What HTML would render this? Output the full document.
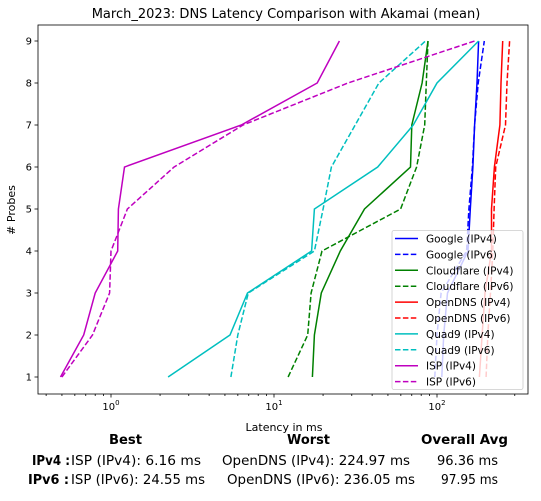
<!DOCTYPE html>
<html><head><meta charset="utf-8"><style>
body{margin:0;background:#fff;}
svg{font-family:"DejaVu Sans","Liberation Sans",sans-serif;}
</style></head><body>
<svg id="chart" width="541" height="496" xmlns="http://www.w3.org/2000/svg">
<rect width="541" height="496" fill="#fff"/>
<text x="286" y="18" font-size="13" text-anchor="middle">March_2023: DNS Latency Comparison with Akamai (mean)</text>
<g id="plot"></g>
<text x="284" y="431" font-size="11" text-anchor="middle">Latency in ms</text>
<text transform="translate(15,210) rotate(-90)" font-size="11" text-anchor="middle"># Probes</text>
<g font-size="13.5">
<text x="109" y="444" font-weight="bold" textLength="33" lengthAdjust="spacingAndGlyphs">Best</text>
<text x="287" y="444" font-weight="bold" textLength="43" lengthAdjust="spacingAndGlyphs">Worst</text>
<text x="421" y="444" font-weight="bold" textLength="87" lengthAdjust="spacingAndGlyphs">Overall Avg</text>
<text x="32" y="465" font-weight="bold" textLength="38" lengthAdjust="spacingAndGlyphs">IPv4 :</text>
<text x="71" y="465" textLength="130" lengthAdjust="spacingAndGlyphs">ISP (IPv4): 6.16 ms</text>
<text x="222" y="465" textLength="188" lengthAdjust="spacingAndGlyphs">OpenDNS (IPv4): 224.97 ms</text>
<text x="437" y="465" textLength="61" lengthAdjust="spacingAndGlyphs">96.36 ms</text>
<text x="28" y="484" font-weight="bold" textLength="41" lengthAdjust="spacingAndGlyphs">IPv6 :</text>
<text x="71" y="484" textLength="134" lengthAdjust="spacingAndGlyphs">ISP (IPv6): 24.55 ms</text>
<text x="227" y="484" textLength="188" lengthAdjust="spacingAndGlyphs">OpenDNS (IPv6): 236.05 ms</text>
<text x="441" y="484" textLength="57" lengthAdjust="spacingAndGlyphs">97.95 ms</text>
</g>
</svg>
<script>
const probes=[1,2,3,4,5,6,7,8,9];
const seriesNames=["Google (IPv4)","Google (IPv6)","Cloudflare (IPv4)","Cloudflare (IPv6)","OpenDNS (IPv4)","OpenDNS (IPv6)","Quad9 (IPv4)","Quad9 (IPv6)","ISP (IPv4)","ISP (IPv6)"];
const seriesColors=["#0000ff","#0000ff","#008000","#008000","#ff0000","#ff0000","#00bfbf","#00bfbf","#bf00bf","#bf00bf"];
const seriesDashed=[false,true,false,true,false,true,false,true,false,true];
const googleV4=[107,110,116,155,160,166,170,176,180];
const googleV6=[97,100,106,152,157,165,170,179,195];
const cloudflareV4=[17.2,17.7,19.5,25.5,35.9,68.8,70,81,88];
const cloudflareV6=[12.2,16.1,16.9,19.7,59.8,75,84,86,88];
const openV4=[182,189,197,216,216,225,243,247,253];
const openV6=[200,205,213,220,224,229,263,269,279];
const quad9V4=[2.24,5.37,6.88,17.0,17.7,43.3,71.5,100,180];
const quad9V6=[5.44,6.0,6.96,17.7,20,22.5,31.5,44,85];
const ispV4=[0.49,0.68,0.80,1.10,1.11,1.21,6.3,18.4,25.2];
const ispV6=[0.50,0.77,0.98,1.0,1.26,2.44,6.45,28.4,170];
const seriesValues=[googleV4,googleV6,cloudflareV4,cloudflareV6,openV4,openV6,quad9V4,quad9V6,ispV4,ispV6];
const xTickLabels=["10","10","10"];
const xTickExps=["0","1","2"];

const NS="http://www.w3.org/2000/svg";
const L=38,R=528,T=25,B=394;
const x=v=>111+163*Math.log10(v);
const y=p=>377-(p-1)*42;
const g=document.getElementById('plot');
function mk(t,a,p){const e=document.createElementNS(NS,t);for(const k in a)e.setAttribute(k,a[k]);(p||g).appendChild(e);return e;}

for(let d=-1;d<=2;d++){for(let m=1;m<10;m++){const v=m*Math.pow(10,d);const px=x(v);if(px<L||px>R)continue;
 const t=mk('line',{x1:px,x2:px,y1:B,y2:B+(m==1?3.5:2),stroke:'#000','stroke-width':0.8});
 
 }}
xTickExps.forEach((e,i)=>{const px=x(Math.pow(10,+e));
 const t=mk('text',{x:px,y:B+16,'font-size':10,'text-anchor':'middle'});
 
 
 t.textContent=xTickLabels[i];
 const s=mk('tspan',{dy:-5,'font-size':7},t);s.textContent=e;});
probes.forEach(p=>{mk('line',{x1:L-3.5,x2:L,y1:y(p),y2:y(p),stroke:'#000','stroke-width':0.8});
 const t=mk('text',{x:L-6,y:y(p)+3.5,'font-size':10,'text-anchor':'end'});
 
 
 t.textContent=p;});

seriesValues.forEach((vals,i)=>{
 const pts=vals.map((v,j)=>x(v).toFixed(1)+','+y(probes[j]).toFixed(1)).join(' ');
 const l=mk('polyline',{points:pts,fill:'none',stroke:seriesColors[i],'stroke-width':1.5,'stroke-dasharray':seriesDashed[i]?'5.5,2.4':'none'});
 
 
});

mk('rect',{x:L,y:T,width:R-L,height:B-T,fill:'none',stroke:'#000','stroke-width':0.8});

const lg=mk('g',{});


mk('rect',{x:392,y:230.5,width:131,height:159,rx:2,fill:'#fff','fill-opacity':0.8,stroke:'#ccc','stroke-width':0.8},lg);
seriesNames.forEach((n,i)=>{const yy=238.5+i*15.9;
 const e=mk('g',{},lg);
 
 
 mk('line',{x1:395,x2:418,y1:yy,y2:yy,stroke:seriesColors[i],'stroke-width':1.5,'stroke-dasharray':seriesDashed[i]?'5.5,2.4':'none'},e);
 const t=mk('text',{x:426,y:yy+4,'font-size':10.5},e);t.textContent=n;});
</script>
</body></html>
